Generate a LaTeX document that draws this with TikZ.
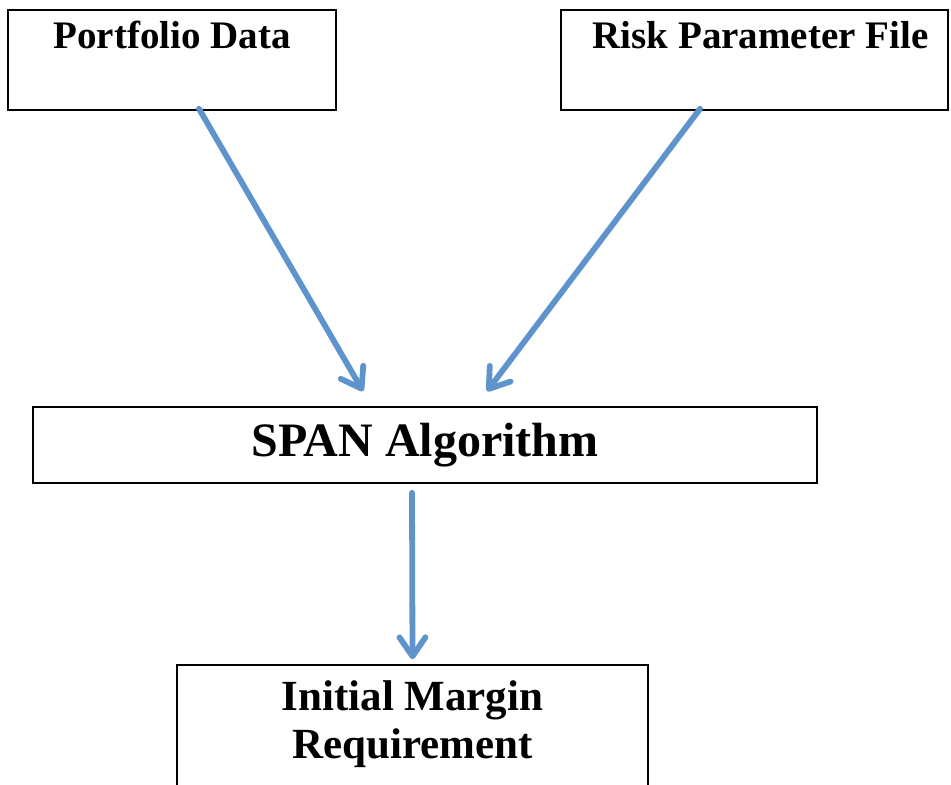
\documentclass[tikz,border=0pt]{standalone}
\usepackage{fontspec}
\setmainfont{Liberation Serif}
\usepackage{tikz}
\usetikzlibrary{arrows.meta,positioning,calc}

\definecolor{flowblue}{RGB}{94,147,204}

\begin{document}
\begin{tikzpicture}[x=0.5pt, y=-0.5pt,
                    box/.style = {rectangle, draw=black, line width=0.8pt, fill=white},
                    label/.style = {font=\bfseries\fontsize{19.5}{24}\selectfont, inner sep=0pt},
                    flow/.style = {draw=flowblue, line width=2.9pt, line cap=round,
                            -{Straight Barb[length=9.5pt, width=13pt, line cap=round, line join=round]}} ]

                \useasboundingbox (0,0) rectangle (951,785);
                \clip (0,0) rectangle (951,785);

                \node [box, minimum width=164pt, minimum height=50pt] (portfolio) at (172,60) {};
                \node [label] (portfoliotext) at ($(portfolio.north)+(0,26)$) {Portfolio Data};

                \node [box, minimum width=193.5pt, minimum height=50pt] (risk) at (754.5,60) {};
                \node [label] (risktext) at ($(risk.north)+(6,26)$) {Risk Parameter File};

                \node [box, minimum width=392pt, minimum height=38pt,
                       font=\bfseries\fontsize{24}{28}\selectfont] (span) at (425,445) {SPAN Algorithm};

                % bottom box runs off the page
                \node [box, minimum width=235.5pt, minimum height=100pt] (initial) at (412.5,765) {};
                \node [label, align=center, font=\bfseries\fontsize{21.5}{24}\selectfont] (initialtext)
                      at ($(initial.north)+(0,60)$) {Initial Margin\\Requirement};

                \draw [flow] ($(portfolio.south)+(27,-2)$) -- ($(span.north)+(-62,-15)$);
                \draw [flow] ($(risk.south)+(-54.5,-2)$) -- ($(span.north)+(62,-15)$);
                \draw [flow] ($(span.south)+(-13,9)$) -- ($(initial.north)+(0,-5)$);
            \end{tikzpicture}
\end{document}
